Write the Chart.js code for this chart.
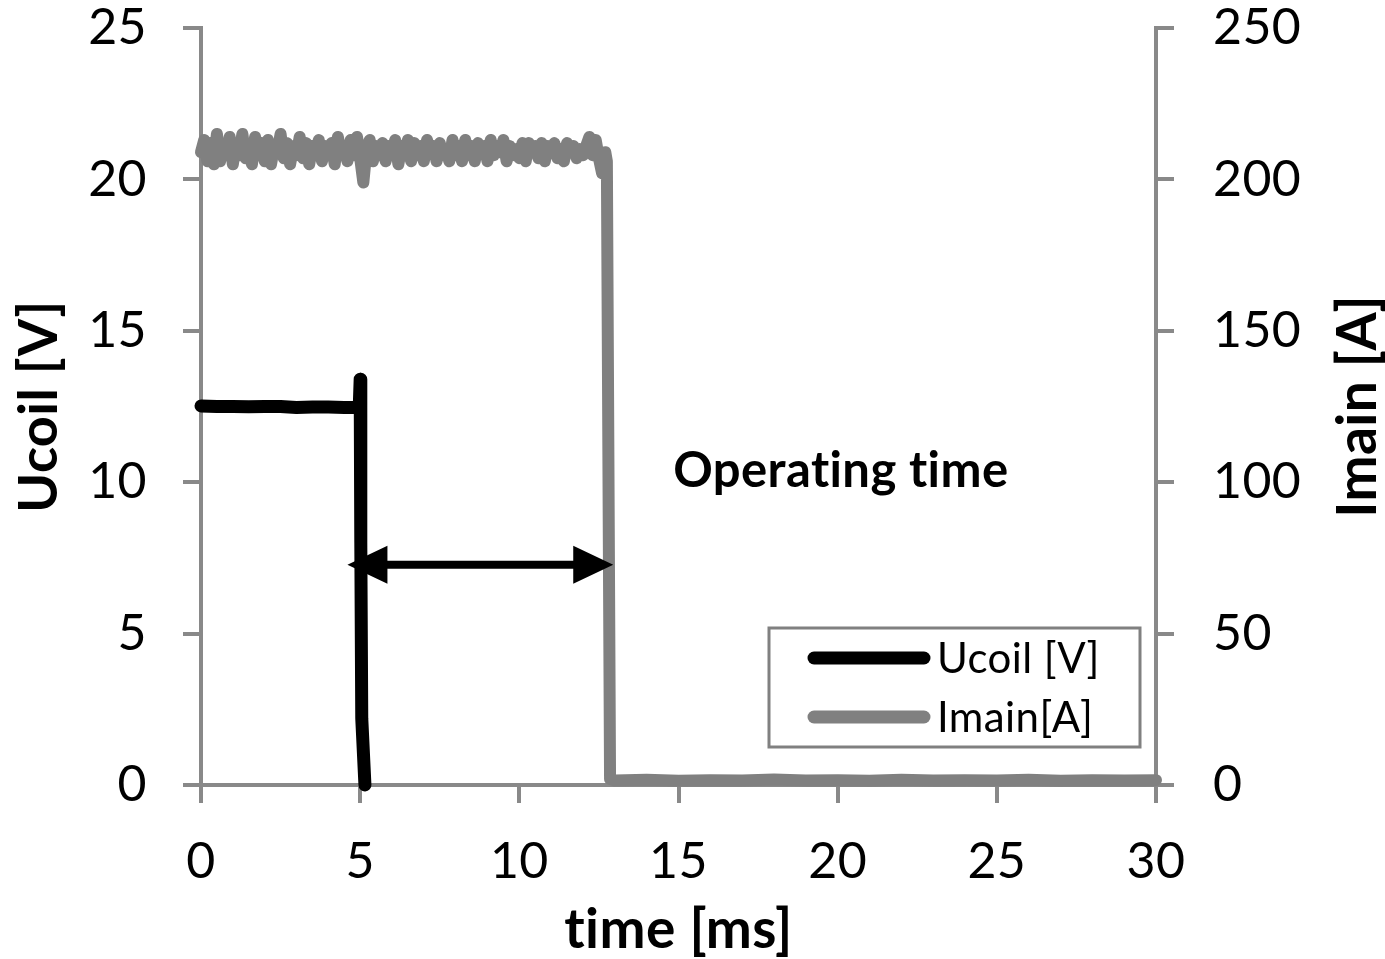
<!DOCTYPE html>
<html>
<head>
<meta charset="utf-8">
<script src="https://cdn.jsdelivr.net/npm/chart.js@4.4.1/dist/chart.umd.min.js"></script>
<style>
  html, body { margin: 0; padding: 0; background: #fff; }
  #wrap { width: 1385px; height: 959px; }
</style>
</head>
<body>
<div id="wrap"><canvas id="chart" width="1385" height="959"></canvas></div>
<script>
// ── DATA ─────────────────────────────────────────────────────
const xTicks = [0, 5, 10, 15, 20, 25, 30];       // time [ms]
const leftTicks = [0, 5, 10, 15, 20, 25];        // Ucoil [V]
const rightTicks = [0, 50, 100, 150, 200, 250];  // Imain [A]

// coil voltage
const ucoilTime   = [0, 0.5, 1, 1.5, 2, 2.5, 3, 3.5, 4, 4.5, 4.97, 5.0, 5.02, 5.05, 5.15];
const ucoilValues = [12.52, 12.5, 12.5, 12.49, 12.5, 12.5, 12.47, 12.48, 12.48, 12.47, 12.47, 13.4, 8.0, 2.2, 0];

// main current while closed, one sample every 0.1 ms from 0 ms
const imainStep = 0.1;
const imainOn = [
  209, 213, 206, 212, 205, 215, 206, 211, 208, 214,
  205, 212, 208, 215, 207, 211, 205, 214, 208, 212,
  206, 213, 205, 211, 209, 215, 207, 212, 205, 211,
  208, 214, 207, 212, 205, 211, 208, 213, 206, 211,
  209, 212, 205, 214, 208, 211, 206, 213, 208, 214,
  207, 199, 210, 213, 206, 211, 208, 212, 206, 211,
  208, 213, 205, 211, 209, 213, 206, 212, 208, 211,
  206, 213, 209, 211, 206, 212, 208, 210, 206, 213,
  208, 211, 206, 213, 208, 211, 206, 212, 209, 211,
  206, 213, 208, 211, 209, 213, 206, 211, 208, 210,
  207, 212, 206, 212, 209, 211, 207, 212, 206, 211,
  209, 212, 207, 210, 206, 212, 209, 211, 207, 210,
  208, 211, 214, 208, 213, 207, 202, 209
];
// main current after the contacts open
const imainOffTime   = [12.75, 12.85, 13, 14, 15, 16, 17, 18, 19, 20, 21, 22, 23, 24, 25, 26, 27, 28, 29, 30];
const imainOffValues = [206, 2, 1.5, 1.7, 1.4, 1.6, 1.5, 1.8, 1.5, 1.6, 1.4, 1.7, 1.5, 1.6, 1.5, 1.7, 1.4, 1.6, 1.5, 1.6];

// "Operating time" arrow and label, in data units (ms, V)
const arrowSpan  = [4.6, 12.95];
const arrowLevel = 7.27;
const opLabel    = { text: 'Operating time', t: 20.1, v: 10.35 };

// ── BUILD SERIES ─────────────────────────────────────────────
const ucoilPts = ucoilTime.map((t, i) => ({ x: t, y: ucoilValues[i] }));
const imainPts = imainOn.map((v, i) => ({ x: +(i * imainStep).toFixed(2), y: v }))
  .concat(imainOffTime.map((t, i) => ({ x: t, y: imainOffValues[i] })));

const AXIS = '#898989';
const GREY = '#808080';
const FONT = 'Lato, "Open Sans", sans-serif';
const TRACE = 13;

// ── OVERLAY: arrow, label, legend box, right-hand title ──────
const overlay = {
  id: 'overlay',
  beforeDraw(chart) {
    // a touch of spacing keeps Lato from forming its "ti" ligature
    chart.ctx.letterSpacing = '0.4px';
  },
  afterDraw(chart) {
    const { ctx, chartArea: ca, scales: { x, y } } = chart;
    ctx.save();

    // double arrow
    const x1 = x.getPixelForValue(arrowSpan[0]);
    const x2 = x.getPixelForValue(arrowSpan[1]);
    const ay = y.getPixelForValue(arrowLevel);
    const hl = 40, hw = 19;
    ctx.strokeStyle = '#000';
    ctx.fillStyle = '#000';
    ctx.lineWidth = 8;
    ctx.beginPath();
    ctx.moveTo(x1 + hl - 4, ay);
    ctx.lineTo(x2 - hl + 4, ay);
    ctx.stroke();
    ctx.beginPath();
    ctx.moveTo(x1, ay); ctx.lineTo(x1 + hl, ay - hw); ctx.lineTo(x1 + hl, ay + hw); ctx.closePath();
    ctx.moveTo(x2, ay); ctx.lineTo(x2 - hl, ay - hw); ctx.lineTo(x2 - hl, ay + hw); ctx.closePath();
    ctx.fill();

    // label
    ctx.font = 'bold 49px ' + FONT;
    ctx.textAlign = 'center';
    ctx.textBaseline = 'middle';
    ctx.fillText(opLabel.text, x.getPixelForValue(opLabel.t), y.getPixelForValue(opLabel.v));

    // legend box
    const bx = ca.right - 387, by = ca.bottom - 157, bw = 371, bh = 119;
    ctx.fillStyle = '#fff';
    ctx.fillRect(bx, by, bw, bh);
    ctx.strokeStyle = GREY;
    ctx.lineWidth = 3;
    ctx.strokeRect(bx, by, bw, bh);
    ctx.lineCap = 'round';
    ctx.lineWidth = TRACE;
    ctx.font = '42px ' + FONT;
    ctx.textAlign = 'left';
    chart.data.datasets.forEach((ds, i) => {
      const ly = by + 30 + i * 59;
      ctx.strokeStyle = ds.borderColor;
      ctx.beginPath();
      ctx.moveTo(bx + 45, ly);
      ctx.lineTo(bx + 155, ly);
      ctx.stroke();
      ctx.fillStyle = '#000';
      ctx.fillText(ds.label, bx + 168, ly + 1);
    });

    // right axis title, reading bottom to top like the left one
    ctx.translate(1358, (ca.top + ca.bottom) / 2);
    ctx.rotate(-Math.PI / 2);
    ctx.font = 'bold 55px ' + FONT;
    ctx.textAlign = 'center';
    ctx.fillText('Imain [A]', 0, 0);
    ctx.restore();
  }
};

const tickFont = { family: FONT, size: 50 };
const titleFont = { family: FONT, size: 54, weight: 'bold', lineHeight: 1.05 };
const gridOpts = { display: true, drawOnChartArea: false, drawTicks: true, tickLength: 18, color: AXIS, lineWidth: 4 };

// fixed box sizes so the plot area lands where the original has it
const fitY = (w) => (s) => { s.width = w; s.paddingTop = 0; s.paddingBottom = 0; };

new Chart(document.getElementById('chart'), {
  type: 'line',
  data: {
    datasets: [
      {
        label: 'Ucoil [V]',
        data: ucoilPts,
        yAxisID: 'y',
        borderColor: '#000',
        borderWidth: TRACE,
        borderCapStyle: 'round',
        borderJoinStyle: 'round',
        pointRadius: 0,
        tension: 0,
        clip: 8,
      },
      {
        label: 'Imain[A]',
        data: imainPts,
        yAxisID: 'y2',
        borderColor: GREY,
        borderWidth: TRACE - 1,
        borderCapStyle: 'round',
        borderJoinStyle: 'round',
        pointRadius: 0,
        tension: 0,
        clip: 8,
      },
    ],
  },
  options: {
    responsive: false,
    devicePixelRatio: 1,
    animation: false,
    layout: { autoPadding: false, padding: { top: 28 } },
    plugins: { legend: { display: false }, tooltip: { enabled: false } },
    scales: {
      x: {
        type: 'linear',
        min: 0, max: 30,
        afterBuildTicks: (s) => { s.ticks = xTicks.map(v => ({ value: v })); },
        afterFit: (s) => { s.height = 174; },
        grid: gridOpts,
        border: { display: true, color: AXIS, width: 4 },
        ticks: { color: '#000', font: tickFont, padding: 29, maxRotation: 0 },
        title: { display: true, text: 'time [ms]', color: '#000', font: { ...titleFont, size: 55 }, padding: { top: 0, bottom: 0 } },
      },
      y: {
        position: 'left',
        min: 0, max: 25,
        afterBuildTicks: (s) => { s.ticks = leftTicks.map(v => ({ value: v })); },
        afterFit: fitY(201),
        grid: gridOpts,
        border: { display: true, color: AXIS, width: 4 },
        ticks: { color: '#000', font: tickFont, padding: 36 },
        title: { display: true, text: 'Ucoil [V]', color: '#000', font: titleFont, padding: { top: 11, bottom: 0 } },
      },
      y2: {
        position: 'right',
        min: 0, max: 250,
        afterBuildTicks: (s) => { s.ticks = rightTicks.map(v => ({ value: v })); },
        afterFit: fitY(229),
        grid: gridOpts,
        border: { display: true, color: AXIS, width: 4 },
        ticks: { color: '#000', font: tickFont, padding: 39 },
      },
    },
  },
  plugins: [overlay],
});
</script>
</body>
</html>
